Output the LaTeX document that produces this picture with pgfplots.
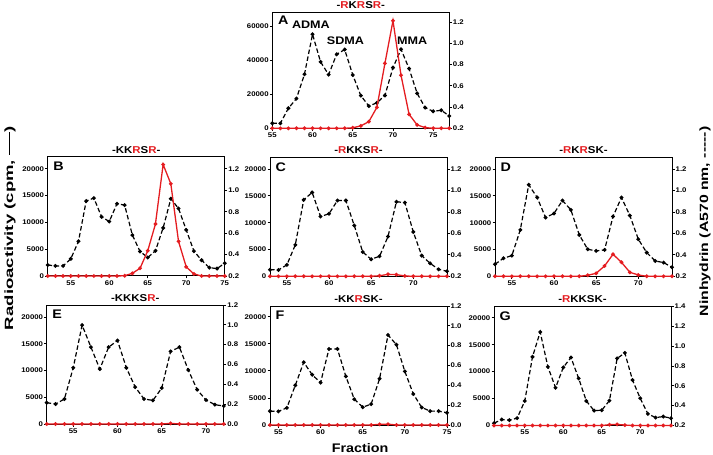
\documentclass[border=0pt]{standalone}
\usepackage{pgfplots}
\pgfplotsset{compat=1.18}
\usepackage{fontspec}
\setmainfont{Liberation Sans}[FakeStretch=1.15]

\definecolor{radred}{RGB}{228,28,32}
\newcommand{\rr}{\textcolor{radred}{R}}

\tikzset{
    letter/.style={anchor=north west, inner sep=0pt, font=\bfseries\fontsize{12.5}{13}\selectfont},
}
\pgfplotsset{
    panel/.style={
        scale only axis,
        width=177bp, height=119bp,
        anchor=south west,
        clip=false,
        xtick={50,55,...,80},
        tick align=outside,
        major tick length=2.5bp,
        tick style={black, line width=0.9pt},
        axis line style={line width=1pt},
        tick label style={font=\bfseries\fontsize{6.8}{7}\selectfont},
        /pgf/number format/assume math mode=true,
    },
    leftax/.style={panel,
        xtick pos=bottom, ytick pos=left,
        scaled y ticks=false,
        yticklabel style={/pgf/number format/1000 sep={}, inner sep=1pt},
        xticklabel style={inner sep=2pt},
        ymin=0,
        title style={at={(0.5,1)}, anchor=south, yshift=-2.5bp, inner sep=0pt,
            font=\bfseries\fontsize{10}{11}\selectfont},
    },
    rightax/.style={panel,
        axis x line=none, axis y line*=right,
        yticklabel style={/pgf/number format/fixed, /pgf/number format/precision=1,
            /pgf/number format/fixed zerofill, inner sep=1pt},
    },
    nin/.style={black, line width=1.2pt, dash pattern=on 4.5bp off 2.5bp,
        mark=*, mark size=1.3bp, mark options={solid}},
    rad/.style={radred, line width=1.3pt, mark=*, mark size=1.2bp},
}

\begin{document}
\begin{tikzpicture}
\path[use as bounding box] (0,0) rectangle (713bp,455bp);

% ---------------- A ----------------
\begin{axis}[rightax, at={(272.3bp,326.7bp)}, height=115.6bp,
    xmin=55, xmax=77, ymin=0.2, ymax=1.29, ytick={0.2,0.4,...,1.2}]
\addplot[nin] coordinates {
    (55,0.247) (56,0.247) (57,0.389) (58,0.48) (59,0.71) (60,1.087) (61,0.826)
    (62,0.706) (63,0.898) (64,0.942) (65,0.703) (66,0.508) (67,0.41) (68,0.44)
    (69,0.51) (70,0.772) (71,0.945) (72,0.763) (73,0.53) (74,0.395) (75,0.36)
    (76,0.37) (77,0.316)
};
\end{axis}
\begin{axis}[leftax, at={(272.3bp,326.7bp)}, height=115.6bp,
    xmin=55, xmax=77, ymax=67800, ytick={0,20000,40000,60000},
    title={-\rr K\rr S\rr -}]
\addplot[rad] coordinates {
    (55,0) (56,0) (57,0) (58,0) (59,0) (60,0) (61,0) (62,0) (63,0) (64,0)
    (65,300) (66,1400) (67,3900) (68,12300) (69,38100) (70,63100) (71,31100)
    (72,8200) (73,2000) (74,400) (75,0) (76,0) (77,0)
};
\node[letter] at ([xshift=5.5bp,yshift=-3.5bp]rel axis cs:0,1) {A};
\node[font=\bfseries\fontsize{11}{12}\selectfont] at (axis cs:59.8,60600) {ADMA};
\node[font=\bfseries\fontsize{11}{12}\selectfont] at (axis cs:64.1,51400) {SDMA};
\node[font=\bfseries\fontsize{11}{12}\selectfont] at (axis cs:72.4,51400) {MMA};
\end{axis}

% ---------------- B ----------------
\begin{axis}[rightax, at={(47.7bp,179bp)},
    xmin=52, xmax=75, ymin=0.2, ymax=1.31, ytick={0.2,0.4,...,1.2}]
\addplot[nin] coordinates {
    (52,0.303) (53,0.294) (54,0.294) (55,0.36) (56,0.523) (57,0.899) (58,0.927)
    (59,0.752) (60,0.708) (61,0.874) (62,0.861) (63,0.582) (64,0.429) (65,0.372)
    (66,0.435) (67,0.648) (68,0.921) (69,0.83) (70,0.63) (71,0.432) (72,0.347)
    (73,0.278) (74,0.269) (75,0.319)
};
\end{axis}
\begin{axis}[leftax, at={(47.7bp,179bp)},
    xmin=52, xmax=75, ymax=22200, ytick={0,5000,...,20000},
    title={-KK\rr S\rr -}]
\addplot[rad] coordinates {
    (52,0) (53,0) (54,0) (55,0) (56,0) (57,0) (58,0) (59,0) (60,0) (61,0)
    (62,50) (63,500) (64,1440) (65,4700) (66,9700) (67,20800) (68,17200)
    (69,6460) (70,1700) (71,380) (72,0) (73,0) (74,0) (75,0)
};
\node[letter] at ([xshift=5.5bp,yshift=-5bp]rel axis cs:0,1) {B};
\end{axis}

% ---------------- C ----------------
\begin{axis}[rightax, at={(270bp,178.7bp)},
    xmin=53, xmax=74, ymin=0.2, ymax=1.31, ytick={0.2,0.4,...,1.2}]
\addplot[nin] coordinates {
    (53,0.262) (54,0.259) (55,0.306) (56,0.493) (57,0.913) (58,0.982) (59,0.758)
    (60,0.783) (61,0.907) (62,0.907) (63,0.673) (64,0.427) (65,0.359) (66,0.387)
    (67,0.571) (68,0.895) (69,0.888) (70,0.614) (71,0.393) (72,0.321) (73,0.265)
    (74,0.247)
};
\end{axis}
\begin{axis}[leftax, at={(270bp,178.7bp)},
    xmin=53, xmax=74, ymax=22200, ytick={0,5000,...,20000},
    title={-\rr KKS\rr -}]
\addplot[rad] coordinates {
    (53,0) (54,0) (55,0) (56,0) (57,0) (58,0) (59,0) (60,0) (61,0) (62,0)
    (63,0) (64,0) (65,0) (66,100) (67,370) (68,310) (69,60) (70,0) (71,0)
    (72,0) (73,0) (74,0)
};
\node[letter] at ([xshift=5.5bp,yshift=-5bp]rel axis cs:0,1) {C};
\end{axis}

% ---------------- D ----------------
\begin{axis}[rightax, at={(495bp,178.7bp)},
    xmin=53, xmax=74, ymin=0.2, ymax=1.31, ytick={0.2,0.4,...,1.2}]
\addplot[nin] coordinates {
    (53,0.312) (54,0.368) (55,0.393) (56,0.633) (57,1.054) (58,0.935) (59,0.748)
    (60,0.786) (61,0.907) (62,0.82) (63,0.586) (64,0.452) (65,0.437) (66,0.446)
    (67,0.758) (68,0.935) (69,0.767) (70,0.546) (71,0.421) (72,0.343) (73,0.328)
    (74,0.284)
};
\end{axis}
\begin{axis}[leftax, at={(495bp,178.7bp)},
    xmin=53, xmax=74, ymax=22200, ytick={0,5000,...,20000},
    title={-\rr K\rr SK-}]
\addplot[rad] coordinates {
    (53,0) (54,0) (55,0) (56,0) (57,0) (58,0) (59,0) (60,0) (61,0) (62,0)
    (63,0) (64,190) (65,560) (66,1930) (67,4110) (68,2620) (69,750) (70,250)
    (71,0) (72,0) (73,0) (74,0)
};
\node[letter] at ([xshift=5.5bp,yshift=-5bp]rel axis cs:0,1) {D};
\end{axis}

% ---------------- E ----------------
\begin{axis}[rightax, at={(46.7bp,31bp)},
    xmin=52, xmax=72, ymin=0, ymax=1.2, ytick={0,0.2,...,1.2}]
\addplot[nin] coordinates {
    (52,0.215) (53,0.201) (54,0.252) (55,0.567) (56,0.997) (57,0.775) (58,0.554)
    (59,0.775) (60,0.842) (61,0.567) (62,0.372) (63,0.252) (64,0.238) (65,0.362)
    (66,0.732) (67,0.775) (68,0.544) (69,0.346) (70,0.242) (71,0.195) (72,0.181)
};
\end{axis}
\begin{axis}[leftax, at={(46.7bp,31bp)},
    xmin=52, xmax=72, ymax=22250, ytick={0,5000,...,20000},
    title={-KKKS\rr -}]
\addplot[rad] coordinates {
    (52,0) (53,0) (54,0) (55,0) (56,0) (57,0) (58,0) (59,0) (60,0) (61,0)
    (62,0) (63,0) (64,0) (65,0) (66,120) (67,0) (68,0) (69,0) (70,0) (71,0)
    (72,0)
};
\node[letter] at ([xshift=5.5bp,yshift=-5bp]rel axis cs:0,1) {E};
\end{axis}

% ---------------- F ----------------
\begin{axis}[rightax, at={(270bp,30bp)},
    xmin=54, xmax=75, ymin=0, ymax=1.2, ytick={0,0.2,...,1.2}]
\addplot[nin] coordinates {
    (54,0.14) (55,0.137) (56,0.173) (57,0.4) (58,0.633) (59,0.507) (60,0.427)
    (61,0.767) (62,0.767) (63,0.49) (64,0.26) (65,0.18) (66,0.21) (67,0.467)
    (68,0.907) (69,0.81) (70,0.54) (71,0.313) (72,0.177) (73,0.14) (74,0.14)
    (75,0.123)
};
\end{axis}
\begin{axis}[leftax, at={(270bp,30bp)},
    xmin=54, xmax=75, ymax=22000, ytick={0,5000,...,20000},
    title={-KK\rr SK-}]
\addplot[rad] coordinates {
    (54,0) (55,0) (56,0) (57,0) (58,0) (59,0) (60,0) (61,0) (62,0) (63,0)
    (64,0) (65,0) (66,0) (67,130) (68,160) (69,0) (70,0) (71,0) (72,0) (73,0)
    (74,0) (75,0)
};
\node[letter] at ([xshift=5.5bp,yshift=-5bp]rel axis cs:0,1) {F};
\end{axis}

% ---------------- G ----------------
\begin{axis}[rightax, at={(494bp,29.5bp)},
    xmin=51, xmax=74, ymin=0.2, ymax=1.4, ytick={0.2,0.4,...,1.4}]
\addplot[nin] coordinates {
    (51,0.223) (52,0.26) (53,0.254) (54,0.274) (55,0.447) (56,0.892) (57,1.143)
    (58,0.792) (59,0.581) (60,0.786) (61,0.886) (62,0.675) (63,0.447) (64,0.35)
    (65,0.354) (66,0.451) (67,0.876) (68,0.932) (69,0.658) (70,0.474) (71,0.317)
    (72,0.28) (73,0.29) (74,0.274)
};
\end{axis}
\begin{axis}[leftax, at={(494bp,29.5bp)},
    xmin=51, xmax=74, ymax=22100, ytick={0,5000,...,20000},
    title={-\rr KKSK-}]
\addplot[rad] coordinates {
    (51,0) (52,0) (53,0) (54,0) (55,0) (56,0) (57,0) (58,0) (59,0) (60,0)
    (61,0) (62,0) (63,0) (64,0) (65,0) (66,150) (67,200) (68,80) (69,0) (70,0)
    (71,0) (72,0) (73,0) (74,0)
};
\node[letter] at ([xshift=5.5bp,yshift=-5bp]rel axis cs:0,1) {G};
\end{axis}

% shared labels
\node[rotate=90, font=\bfseries\fontsize{12}{13}\selectfont] at (10bp,227bp)
    {\scalebox{1.35}[1]{Radioactivity (cpm, \rule[0.28em]{1.4em}{0.09em})}};
\node[rotate=90, font=\bfseries\fontsize{12}{13}\selectfont] at (705bp,233.5bp)
    {\scalebox{1.15}[1]{Ninhydrin (A570 nm, -{}-{}-{}-{}-)}};
\node[font=\bfseries\fontsize{12.5}{13}\selectfont] at (360bp,7bp) {Fraction};
\end{tikzpicture}
\end{document}
